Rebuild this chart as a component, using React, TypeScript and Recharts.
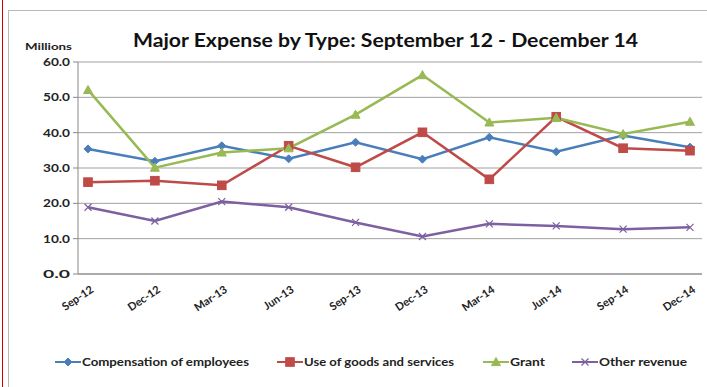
import React from "react";
import { LineChart, Line, XAxis, YAxis, CartesianGrid, Legend } from "recharts";

const categories = ["Sep-12", "Dec-12", "Mar-13", "Jun-13", "Sep-13", "Dec-13", "Mar-14", "Jun-14", "Sep-14", "Dec-14"];
const compensation = [35.4, 31.9, 36.3, 32.6, 37.3, 32.5, 38.7, 34.6, 39.2, 35.9];
const goodsServices = [26.0, 26.4, 25.1, 36.3, 30.2, 40.1, 26.8, 44.5, 35.6, 34.9];
const grant = [52.1, 30.1, 34.4, 35.6, 45.1, 56.3, 42.9, 44.2, 39.6, 43.1];
const otherRevenue = [18.9, 15.0, 20.5, 18.9, 14.6, 10.6, 14.2, 13.6, 12.7, 13.2];
const yTicks = [0, 10, 20, 30, 40, 50, 60];

const data = categories.map((c, i) => ({
  cat: c,
  comp: compensation[i],
  goods: goodsServices[i],
  grant: grant[i],
  other: otherRevenue[i],
}));

const BLUE = "#4A7EBB";
const RED = "#BE4B48";
const GREEN = "#98B954";
const PURPLE = "#7D60A0";
const FONT = "Lato, 'Liberation Sans', sans-serif";

const Diamond = (p: any) => {
  const { cx, cy } = p;
  if (cx == null || cy == null) return null;
  const r = 4;
  return <path d={`M${cx},${cy - r}L${cx + r},${cy}L${cx},${cy + r}L${cx - r},${cy}Z`} fill={BLUE} stroke={BLUE} />;
};
const Square = (p: any) => {
  const { cx, cy } = p;
  if (cx == null || cy == null) return null;
  const r = 4.3;
  return <rect x={cx - r} y={cy - r} width={2 * r} height={2 * r} fill={RED} stroke={RED} />;
};
const Triangle = (p: any) => {
  const { cx, cy } = p;
  if (cx == null || cy == null) return null;
  const r = 4.5;
  return <path d={`M${cx},${cy - r}L${cx + r},${cy + r * 0.8}L${cx - r},${cy + r * 0.8}Z`} fill={GREEN} stroke={GREEN} />;
};
const Cross = (p: any) => {
  const { cx, cy } = p;
  if (cx == null || cy == null) return null;
  const r = 3.5;
  return (
    <path d={`M${cx - r},${cy - r}L${cx + r},${cy + r}M${cx - r},${cy + r}L${cx + r},${cy - r}`} stroke={PURPLE} strokeWidth={1.2} fill="none" />
  );
};

const XTick = (p: any) => {
  const { x, y, payload } = p;
  return (
    <g transform={`translate(${x + 4},${y + 6})`}>
      <text transform="rotate(-34)" textAnchor="end" dy={4} fontSize={11} fontWeight={700} fill="#222" fontFamily={FONT}>
        {payload.value}
      </text>
    </g>
  );
};

const YTick = (p: any) => {
  const { x, y, payload } = p;
  return (
    <text x={x - 1} y={y} dy={4} textAnchor="end" fontSize={11} fontWeight={700} fill="#222" fontFamily={FONT} textLength={27} lengthAdjust="spacingAndGlyphs">
      {Number(payload.value).toFixed(1)}
    </text>
  );
};

const legendItems = [
  { name: "Compensation of employees", color: BLUE, Shape: Diamond, x: 55, w: 167 },
  { name: "Use of goods and services", color: RED, Shape: Square, x: 277, w: 150 },
  { name: "Grant", color: GREEN, Shape: Triangle, x: 483, w: 35 },
  { name: "Other revenue", color: PURPLE, Shape: Cross, x: 572, w: 88 },
];

const LegendContent = () => (
  <svg width={707} height={20} style={{ display: "block" }}>
    {legendItems.map((it, i) => (
      <g key={i}>
        <line x1={it.x} y1={10} x2={it.x + 26} y2={10} stroke={it.color} strokeWidth={2} />
        <it.Shape cx={it.x + 13} cy={10} />
        <text
          x={it.x + 27}
          y={14}
          fontSize={12}
          fontWeight={700}
          fill="#222"
          fontFamily={FONT}
          textLength={it.w}
          lengthAdjust="spacingAndGlyphs"
        >
          {it.name}
        </text>
      </g>
    ))}
  </svg>
);

export default function App() {
  return (
    <div style={{ position: "absolute", left: 0, top: 0, width: 707, height: 387, background: "#fff", overflow: "hidden" }}>
      <div style={{ position: "absolute", left: 2, top: 0, width: 1, height: 387, background: "#c00" }} />
      <div style={{ position: "absolute", left: 8, top: 10, width: 720, height: 400, border: "1px solid #b8b8b8" }} />
      <svg style={{ position: "absolute", left: 0, top: 0 }} width={707} height={70}>
        <text x={133} y={47} fontSize={19} fontWeight={700} fill="#111" fontFamily={FONT} textLength={505} lengthAdjust="spacingAndGlyphs">
          Major Expense by Type: September 12 - December 14
        </text>
        <text x={25} y={50} fontSize={10} fontWeight={700} fill="#222" fontFamily={FONT} textLength={47} lengthAdjust="spacingAndGlyphs">
          Millions
        </text>
      </svg>
      <div style={{ position: "absolute", left: 0, top: 0 }}>
        <LineChart width={707} height={387} data={data} margin={{ top: 62, right: 5, bottom: 33, left: 18 }}>
          <CartesianGrid vertical={false} stroke="#a0a0a0" strokeWidth={1} />
          <XAxis
            dataKey="cat"
            interval={0}
            padding={{ left: 10, right: 12 }}
            stroke="#888"
            tickLine={false}
            tick={<XTick />}
            height={60}
          />
          <YAxis domain={[0, 60]} ticks={yTicks} width={60} stroke="#888" tickSize={5} tick={<YTick />} />
          <Legend content={<LegendContent />} wrapperStyle={{ position: "absolute", left: 0, top: 352, width: 707 }} />
          <Line dataKey="comp" name="Compensation of employees" stroke={BLUE} strokeWidth={2.5} dot={<Diamond />} isAnimationActive={false} />
          <Line dataKey="goods" name="Use of goods and services" stroke={RED} strokeWidth={2.5} dot={<Square />} isAnimationActive={false} />
          <Line dataKey="grant" name="Grant" stroke={GREEN} strokeWidth={2.5} dot={<Triangle />} isAnimationActive={false} />
          <Line dataKey="other" name="Other revenue" stroke={PURPLE} strokeWidth={2.5} dot={<Cross />} isAnimationActive={false} />
        </LineChart>
      </div>
    </div>
  );
}
